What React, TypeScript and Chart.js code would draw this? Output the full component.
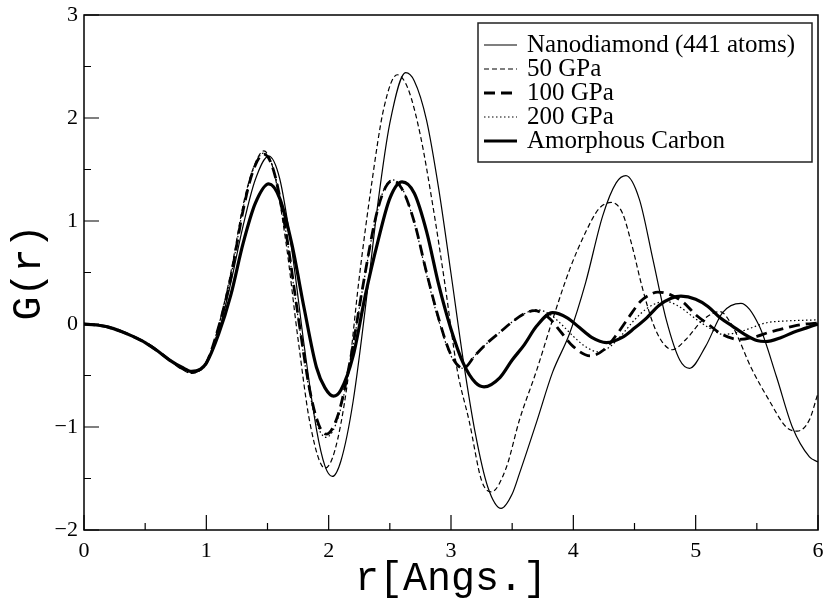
import React, { useEffect, useRef } from 'react';
import { Chart, registerables } from 'chart.js';

Chart.register(...registerables);

const seriesLabels = ['Nanodiamond (441 atoms)', '50 GPa', '100 GPa', '200 GPa', 'Amorphous Carbon'];

const nanoR = [0, 0.1, 0.2, 0.3, 0.4, 0.5, 0.6, 0.7, 0.8, 0.88, 0.95, 1.0, 1.1, 1.2, 1.3, 1.4, 1.51, 1.6, 1.7, 1.8, 1.9, 1.97, 2.03, 2.1, 2.2, 2.33, 2.4, 2.5, 2.63, 2.7, 2.8, 2.9, 3.0, 3.1, 3.2, 3.3, 3.41, 3.5, 3.56, 3.7, 3.83, 3.97, 4.1, 4.24, 4.35, 4.43, 4.54, 4.65, 4.76, 4.87, 4.95, 5.08, 5.22, 5.37, 5.52, 5.66, 5.79, 5.93, 6.0];
const nanoG = [0, -0.01, -0.03, -0.07, -0.12, -0.18, -0.26, -0.35, -0.43, -0.47, -0.44, -0.38, -0.08, 0.4, 0.95, 1.4, 1.63, 1.41, 0.71, -0.21, -1.02, -1.38, -1.48, -1.33, -0.75, 0.45, 1.15, 1.95, 2.44, 2.36, 1.98, 1.31, 0.49, -0.35, -1.07, -1.58, -1.79, -1.65, -1.45, -0.95, -0.47, -0.09, 0.4, 1.05, 1.37, 1.44, 1.21, 0.63, 0.04, -0.35, -0.43, -0.22, 0.11, 0.2, -0.02, -0.51, -1.0, -1.29, -1.34];

const gpa50R = [0, 0.1, 0.2, 0.3, 0.4, 0.5, 0.6, 0.7, 0.8, 0.88, 0.95, 1.0, 1.1, 1.2, 1.3, 1.38, 1.47, 1.55, 1.65, 1.75, 1.85, 1.97, 2.05, 2.15, 2.25, 2.35, 2.45, 2.56, 2.65, 2.75, 2.85, 2.95, 3.05, 3.15, 3.25, 3.33, 3.45, 3.56, 3.7, 3.83, 3.97, 4.1, 4.21, 4.31, 4.4, 4.48, 4.56, 4.65, 4.73, 4.81, 4.92, 5.06, 5.2, 5.3, 5.46, 5.6, 5.74, 5.83, 5.93, 6.0];
const gpa50G = [0, -0.01, -0.03, -0.07, -0.12, -0.18, -0.26, -0.35, -0.44, -0.48, -0.45, -0.38, -0.02, 0.5, 1.15, 1.5, 1.68, 1.49, 0.8, -0.15, -0.98, -1.4, -1.23, -0.6, 0.45, 1.35, 2.09, 2.42, 2.28, 1.83, 1.16, 0.39, -0.44, -0.95, -1.52, -1.63, -1.4, -0.93, -0.45, 0.04, 0.53, 0.89, 1.12, 1.18, 1.08, 0.76, 0.37, 0.01, -0.18, -0.25, -0.15, 0.04, 0.12, -0.02, -0.44, -0.74, -1.0, -1.04, -0.93, -0.67];

const gpa100R = [0, 0.1, 0.2, 0.3, 0.4, 0.5, 0.6, 0.7, 0.8, 0.88, 0.95, 1.0, 1.1, 1.2, 1.3, 1.38, 1.47, 1.55, 1.65, 1.75, 1.85, 1.92, 1.98, 2.08, 2.18, 2.28, 2.38, 2.45, 2.52, 2.6, 2.7, 2.8, 2.9, 3.0, 3.1, 3.2, 3.3, 3.4, 3.5, 3.6, 3.68, 3.8, 3.9, 4.0, 4.14, 4.25, 4.35, 4.45, 4.55, 4.62, 4.69, 4.8, 4.9, 5.0, 5.1, 5.2, 5.3, 5.36, 5.5, 5.6, 5.7, 5.8, 5.9, 6.0];
const gpa100G = [0, -0.01, -0.03, -0.07, -0.12, -0.18, -0.26, -0.35, -0.43, -0.47, -0.44, -0.38, -0.03, 0.45, 1.1, 1.48, 1.65, 1.49, 0.9, 0.08, -0.67, -0.98, -1.07, -0.87, -0.33, 0.37, 1.01, 1.29, 1.39, 1.31, 0.99, 0.5, 0.05, -0.3, -0.43, -0.3, -0.18, -0.08, 0.02, 0.1, 0.13, 0.06, -0.08, -0.22, -0.31, -0.25, -0.11, 0.06, 0.22, 0.28, 0.31, 0.28, 0.21, 0.09, 0.0, -0.09, -0.14, -0.15, -0.12, -0.08, -0.05, -0.02, 0.0, 0.01];

const gpa200R = [0, 0.1, 0.2, 0.3, 0.4, 0.5, 0.6, 0.7, 0.8, 0.88, 0.95, 1.0, 1.1, 1.2, 1.3, 1.38, 1.47, 1.55, 1.65, 1.75, 1.85, 1.92, 1.98, 2.08, 2.18, 2.28, 2.38, 2.45, 2.52, 2.6, 2.7, 2.8, 2.9, 3.0, 3.1, 3.2, 3.3, 3.4, 3.5, 3.6, 3.7, 3.8, 3.9, 4.0, 4.1, 4.2, 4.3, 4.4, 4.5, 4.6, 4.7, 4.75, 4.85, 5.0, 5.1, 5.22, 5.35, 5.45, 5.57, 5.75, 6.0];
const gpa200G = [0, -0.01, -0.03, -0.07, -0.12, -0.18, -0.26, -0.35, -0.43, -0.47, -0.44, -0.38, -0.03, 0.46, 1.12, 1.49, 1.66, 1.5, 0.9, 0.06, -0.7, -1.02, -1.1, -0.9, -0.35, 0.36, 1.0, 1.3, 1.4, 1.32, 0.98, 0.48, 0.03, -0.31, -0.43, -0.3, -0.18, -0.08, 0.02, 0.1, 0.14, 0.1, 0.0, -0.12, -0.22, -0.27, -0.22, -0.1, 0.04, 0.15, 0.21, 0.22, 0.18, 0.05, -0.03, -0.1, -0.08, -0.04, 0.01, 0.03, 0.04];

const amorphR = [0, 0.1, 0.2, 0.3, 0.4, 0.5, 0.6, 0.7, 0.8, 0.88, 0.95, 1.0, 1.1, 1.2, 1.3, 1.4, 1.51, 1.6, 1.7, 1.8, 1.9, 1.97, 2.04, 2.1, 2.2, 2.3, 2.4, 2.5, 2.6, 2.7, 2.8, 2.9, 3.0, 3.1, 3.2, 3.27, 3.4, 3.5, 3.6, 3.7, 3.83, 3.95, 4.05, 4.15, 4.27, 4.4, 4.5, 4.6, 4.7, 4.8, 4.88, 5.0, 5.1, 5.2, 5.3, 5.4, 5.5, 5.57, 5.7, 5.8, 5.9, 6.0];
const amorphG = [0, -0.01, -0.03, -0.07, -0.12, -0.18, -0.26, -0.35, -0.42, -0.46, -0.44, -0.38, -0.1, 0.28, 0.78, 1.17, 1.36, 1.22, 0.77, 0.15, -0.42, -0.62, -0.7, -0.64, -0.31, 0.28, 0.79, 1.22, 1.38, 1.27, 0.9, 0.38, -0.05, -0.38, -0.57, -0.61, -0.52, -0.35, -0.2, -0.02, 0.11, 0.06, -0.035, -0.13, -0.18, -0.13, -0.04, 0.06, 0.18, 0.25, 0.27, 0.24, 0.17, 0.06, -0.02, -0.1, -0.16, -0.17, -0.13, -0.08, -0.04, 0.0];

const xMajorTicks = [0, 1, 2, 3, 4, 5, 6];
const xMinorTicks = [0.5, 1.5, 2.5, 3.5, 4.5, 5.5];
const yMajorTicks = [-2, -1, 0, 1, 2, 3];
const yMinorTicks = [-1.5, -0.5, 0.5, 1.5, 2.5];

const toPoints = (r: number[], g: number[]) => r.map((v, i) => ({ x: v, y: g[i] }));

const frameLegendPlugin = {
  id: 'frameLegend',
  afterDatasetsDraw(chart: any) {
    const { ctx, chartArea: a, scales } = chart;
    const xs = scales.x;
    const ys = scales.y;
    ctx.save();
    ctx.setLineDash([]);
    ctx.strokeStyle = '#000';
    ctx.lineWidth = 1.5;
    ctx.strokeRect(a.left, a.top, a.right - a.left, a.bottom - a.top);
    ctx.lineWidth = 1.2;
    ctx.beginPath();
    xMajorTicks.forEach((v) => { const p = xs.getPixelForValue(v); ctx.moveTo(p, a.bottom); ctx.lineTo(p, a.bottom - 15); });
    xMinorTicks.forEach((v) => { const p = xs.getPixelForValue(v); ctx.moveTo(p, a.bottom); ctx.lineTo(p, a.bottom - 7); });
    yMajorTicks.forEach((v) => { const p = ys.getPixelForValue(v); ctx.moveTo(a.left, p); ctx.lineTo(a.left + 15, p); });
    yMinorTicks.forEach((v) => { const p = ys.getPixelForValue(v); ctx.moveTo(a.left, p); ctx.lineTo(a.left + 7, p); });
    ctx.stroke();

    // legend box
    const bx = 478, by = 23, bw = 334, bh = 139;
    ctx.fillStyle = '#fff';
    ctx.fillRect(bx, by, bw, bh);
    ctx.lineWidth = 1.5;
    ctx.strokeStyle = '#222';
    ctx.strokeRect(bx, by, bw, bh);
    ctx.font = '25px "Liberation Serif", "Times New Roman", serif';
    ctx.textBaseline = 'middle';
    ctx.fillStyle = '#000';
    chart.data.datasets.forEach((ds: any, i: number) => {
      const yy = 45 + 24 * i;
      ctx.beginPath();
      ctx.lineWidth = ds.borderWidth;
      ctx.setLineDash(ds.borderDash || []);
      ctx.strokeStyle = '#000';
      ctx.moveTo(484, yy);
      ctx.lineTo(517, yy);
      ctx.stroke();
      ctx.setLineDash([]);
      ctx.fillText(ds.label, 527, yy);
    });
    ctx.restore();
  },
};

export default function App() {
  const ref = useRef<HTMLCanvasElement>(null);
  useEffect(() => {
    if (!ref.current) return;
    const styles = [
      { w: 1.2, d: [] as number[] },
      { w: 1.2, d: [5, 3] },
      { w: 2.8, d: [11, 6] },
      { w: 1.2, d: [1.5, 2.5] },
      { w: 3.2, d: [] as number[] },
    ];
    const series = [
      toPoints(nanoR, nanoG),
      toPoints(gpa50R, gpa50G),
      toPoints(gpa100R, gpa100G),
      toPoints(gpa200R, gpa200G),
      toPoints(amorphR, amorphG),
    ];
    const chart = new Chart(ref.current, {
      type: 'line',
      data: {
        datasets: series.map((pts, i) => ({
          label: seriesLabels[i],
          data: pts,
          borderColor: '#000',
          backgroundColor: '#000',
          borderWidth: styles[i].w,
          borderDash: styles[i].d,
          pointRadius: 0,
          fill: false,
          cubicInterpolationMode: 'monotone' as const,
        })),
      },
      options: {
        responsive: false,
        animation: false,
        devicePixelRatio: 1,
        layout: { padding: { left: 0, right: 7, top: 15, bottom: 0 } },
        plugins: { legend: { display: false }, tooltip: { enabled: false } },
        scales: {
          x: {
            type: 'linear',
            min: 0,
            max: 6,
            grid: { display: false, drawTicks: false },
            border: { display: false },
            ticks: {
              stepSize: 1,
              padding: 8,
              color: '#000',
              font: { family: '"Liberation Serif", "Times New Roman", serif', size: 22 },
              callback: (v: any) => String(v),
            },
            title: {
              display: true,
              text: 'r[Angs.]',
              color: '#000',
              font: { family: '"Liberation Mono", "Courier New", monospace', size: 40 },
              padding: { top: 0, bottom: 0 },
            },
            afterFit: (s: any) => { s.height = 73; s.paddingLeft = 0; s.paddingRight = 0; },
          },
          y: {
            type: 'linear',
            min: -2,
            max: 3,
            grid: { display: false, drawTicks: false },
            border: { display: false },
            ticks: {
              stepSize: 1,
              padding: 6,
              color: '#000',
              font: { family: '"Liberation Serif", "Times New Roman", serif', size: 22 },
              callback: (v: any) => (Number(v) < 0 ? '\u2212' + Math.abs(Number(v)) : String(v)),
            },
            title: {
              display: true,
              text: 'G(r)',
              color: '#000',
              font: { family: '"Liberation Mono", "Courier New", monospace', size: 40 },
              padding: { top: 5, bottom: 0 },
            },
            afterFit: (s: any) => { s.width = 84; s.paddingTop = 0; s.paddingBottom = 0; },
          },
        },
      },
      plugins: [frameLegendPlugin],
    });
    return () => chart.destroy();
  }, []);
  return (
    <div style={{ position: 'absolute', left: 0, top: 0, width: 825, height: 603, background: '#fff' }}>
      <canvas ref={ref} width={825} height={603} />
    </div>
  );
}
